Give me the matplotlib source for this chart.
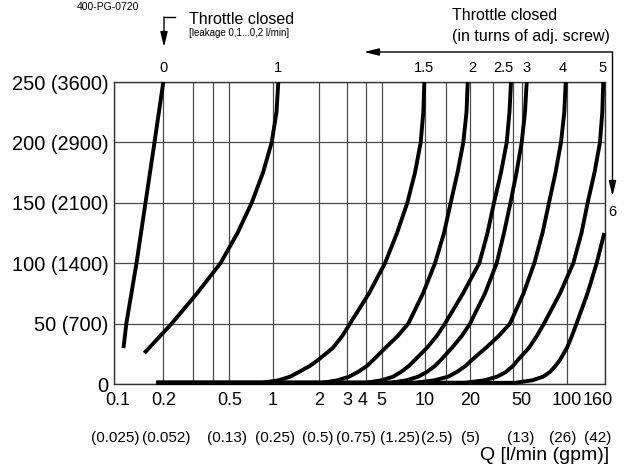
import numpy as np
import matplotlib
matplotlib.use("Agg")
import matplotlib.pyplot as plt
from matplotlib.lines import Line2D
from matplotlib.transforms import ScaledTranslation

plt.rcParams['font.family'] = ['Liberation Sans', 'DejaVu Sans']

# flow Q [l/min] against pressure drop [bar]
q_0 = [0.1143, 0.1189, 0.1372, 0.1557, 0.1767, 0.2]
p_0 = [29.7, 50, 100, 150, 200, 250]

q_1 = [0.1531, 0.2245, 0.3184, 0.4421, 0.570, 0.7149, 0.8565, 0.984, 1.058, 1.087]
p_1 = [25.6, 50, 75, 100, 125, 150, 175, 200, 225, 250]

# the other settings share one pressure grid; each starts on the leakage line at 0.182 l/min
p_open = [1, 1, 3, 6, 10, 15, 20, 30, 40, 50, 75, 100, 125, 150, 175, 200, 225, 250]
q_15 = [0.182, 0.843, 1.082, 1.293, 1.479, 1.741, 1.970, 2.439, 2.798, 3.129, 4.188, 5.271,
        6.39, 7.534, 8.520, 9.335, 9.732, 9.890]
q_2 = [0.182, 2.080, 2.584, 3.080, 3.546, 4.074, 4.448, 5.314, 6.493, 7.654, 9.685, 12.13,
       14.43, 15.87, 17.22, 18.46, 19.18, 19.45]
q_25 = [0.182, 4.017, 4.953, 5.992, 6.810, 7.741, 8.520, 10.39, 12.61, 14.71, 18.39, 23.51,
        27.12, 30.30, 33.62, 36.60, 38.13, 39.00]
q_3 = [0.182, 5.710, 7.378, 8.942, 10.39, 12.13, 13.62, 16.12, 18.17, 20.0, 25.96, 31.54,
       35.15, 38.70, 43.95, 50.0, 52.61, 54.00]
q_4 = [0.182, 8.520, 11.90, 15.36, 17.11, 18.95, 20.71, 26.42, 32.64, 38.42, 51.40, 60.71,
       68.89, 76.13, 84.19, 91.59, 96.38, 98.47]
q_5 = [0.182, 18.84, 25.51, 31.68, 36.22, 40.30, 45.62, 55.95, 63.30, 70.49, 90.22, 108.5,
       120.1, 129.6, 141.0, 150.9, 155.3, 157.2]
q_6 = [0.182, 42.35, 58.61, 69.42, 77.33, 84.19, 90.22, 100.4, 106.8, 112.9, 129.3, 144.9, 159.2]

curves = [(q_0, p_0), (q_1, p_1), (q_15, p_open), (q_2, p_open), (q_25, p_open),
          (q_3, p_open), (q_4, p_open), (q_5, p_open), (q_6, p_open[:len(q_6)])]
turns = ['0', '1', '1.5', '2', '2.5', '3', '4', '5']
turn_dx = [0, 0, 0, 5, -8, 0, -3, -1]

q_ticks = [0.1, 0.2, 0.5, 1, 2, 3, 4, 5, 10, 20, 50, 100, 160]
q_minor = [0.3, 0.4, 15, 30, 40]
gpm_q = [0.1, 0.2, 0.5, 1, 2, 3, 5, 10, 20, 50, 100, 160]
gpm_txt = ['(0.025)', '(0.052)', '(0.13)', '(0.25)', '(0.5)', '(0.75)',
           '(1.25)', '(2.5)', '(5)', '(13)', '(26)', '(42)']
gpm_dx = [1, 3, -2, 2, -2, 9, 18, 12, 0, -1, -4, -7]

p_ticks = [0, 50, 100, 150, 200, 250]
p_labels = ['0', '50 (700)', '100 (1400)', '150 (2100)', '200 (2900)', '250 (3600)']

# the printed log axis is not quite uniform, so follow its grid lines
scale_q = np.log10([0.1, 0.2, 0.3, 0.4, 0.5, 1, 2, 3, 4, 5, 10, 15, 20, 30, 40, 50, 100, 160])
scale_u = np.array([114, 163.3, 192.7, 213.3, 229.3, 272.7, 319.3, 347.3, 365.7, 381.7,
                    425, 446, 470, 493.3, 512.7, 521.7, 566.7, 604.7])

def fwd(x):
    x = np.clip(np.asarray(x, dtype=float), 1e-6, None)
    return np.interp(np.log10(x), scale_q, scale_u)

def inv(u):
    return 10 ** np.interp(u, scale_u, scale_q)

W, H = 625, 466
fig = plt.figure(figsize=(W / 100, H / 100), dpi=100)
ax = fig.add_axes([114 / W, 1 - 384 / H, (604.7 - 114) / W, (384 - 82) / H])
ax.set_xscale('function', functions=(fwd, inv))
ax.set_xlim(0.1, 160)
ax.set_ylim(0, 250)

for q, p in curves:
    ax.plot(q, p, color='black', lw=2.8, solid_capstyle='butt', solid_joinstyle='round',
            clip_on=False, zorder=3)

ax.set_xticks(q_ticks)
ax.set_xticklabels([str(v) for v in q_ticks])
ax.set_xticks(q_minor, minor=True)
ax.set_yticks(p_ticks)
ax.set_yticklabels(p_labels)
ax.tick_params(axis='both', which='both', length=0)
ax.tick_params(axis='x', labelsize=13, pad=6)
ax.tick_params(axis='y', labelsize=14.4, pad=4)
ax.grid(True, which='both', color='#4a4a4a', lw=0.9)
for s in ax.spines.values():
    s.set_color('#333333')
    s.set_linewidth(1)

shift = {'0.1': 4, '4': -3, '160': -7}
for lab in ax.get_xticklabels():
    dx = shift.get(lab.get_text(), 0)
    if dx:
        lab.set_transform(lab.get_transform() + ScaledTranslation(dx / 100, 0, fig.dpi_scale_trans))

for t, q, dx in zip(gpm_txt, gpm_q, gpm_dx):
    ax.annotate(t, xy=(q, 0), xycoords=('data', 'axes fraction'), xytext=(dx, -54),
                textcoords='offset pixels', ha='center', va='center', fontsize=11)

for t, (q, p), dx in zip(turns, curves[:8], turn_dx):
    ax.annotate(t, xy=(q[-1], 1), xycoords=('data', 'axes fraction'), xytext=(dx, 14),
                textcoords='offset pixels', ha='center', va='center', fontsize=10.5)

def ftxt(x, y, s, **kw):
    fig.text(x / W, 1 - y / H, s, **kw)

def fline(xs, ys):
    fig.add_artist(Line2D([x / W for x in xs], [1 - y / H for y in ys],
                          transform=fig.transFigure, color='black', lw=1))

def farrow(x0, y0, x1, y1):
    ax.annotate('', xy=(x1, H - y1), xytext=(x0, H - y0), xycoords='figure pixels',
                textcoords='figure pixels',
                arrowprops=dict(arrowstyle='-|>,head_length=0.9,head_width=0.22',
                                color='black', lw=1, shrinkA=0, shrinkB=0))

ftxt(77, 7, '400-PG-0720', fontsize=7.5, va='center', ha='left')

fline([175, 164], [17, 17])
farrow(164, 17, 164, 47)
ftxt(189, 19, 'Throttle closed', fontsize=11.5, va='center', ha='left')
ftxt(189, 33, '[leakage 0,1...0,2 l/min]', fontsize=7, va='center', ha='left')

ftxt(452, 16, 'Throttle closed', fontsize=11.5, va='center', ha='left')
ftxt(452, 37, '(in turns of adj. screw)', fontsize=11.5, va='center', ha='left')
farrow(612.5, 52, 364, 52)
farrow(612.5, 52, 612.5, 196)
ftxt(612.5, 212, '6', fontsize=10.5, va='center', ha='center')

ftxt(609, 455, 'Q [l/min (gpm)]', fontsize=14, va='center', ha='right')

fig.savefig('out.png', dpi=100)
